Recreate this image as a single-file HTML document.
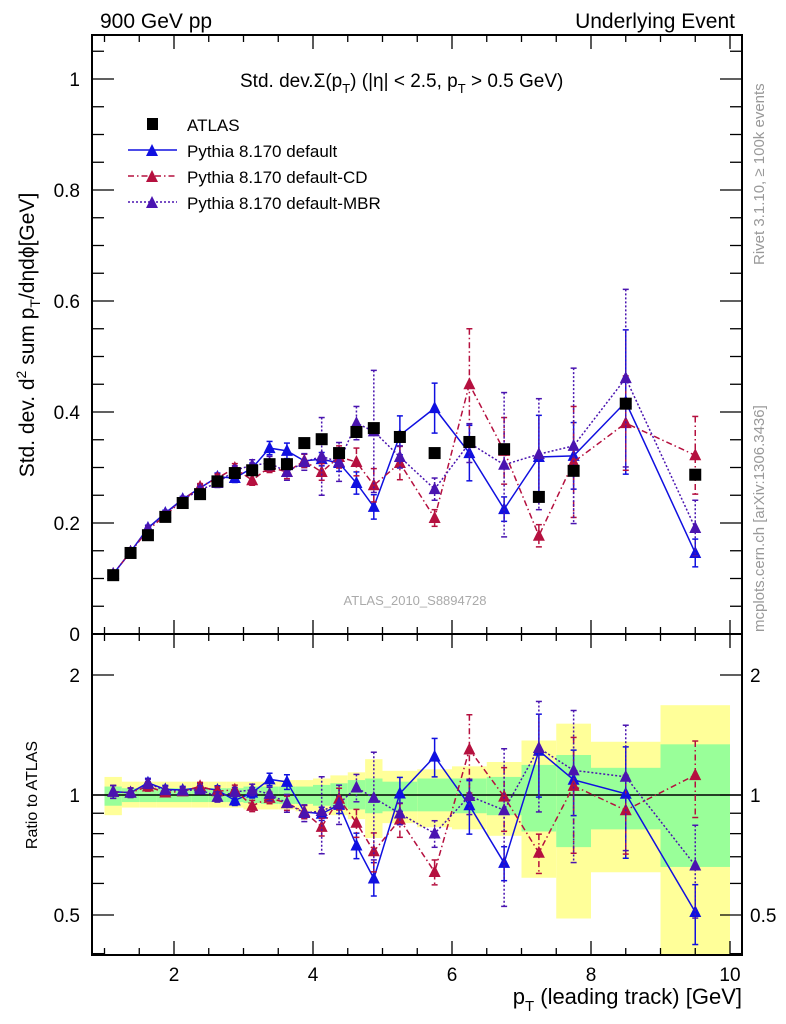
<!DOCTYPE html>
<html><head><meta charset="utf-8"><style>
html,body{margin:0;padding:0;background:#fff;}
svg{display:block;font-family:"Liberation Sans",sans-serif;}
</style></head><body>
<svg id="chart" width="786" height="1024" viewBox="0 0 786 1024" xmlns="http://www.w3.org/2000/svg">
<g id="bands"></g>
<g id="frames"></g>
<g id="series"></g>
<g id="labels">
<text x="100" y="28" font-size="21">900 GeV pp</text>
<text x="735" y="28" font-size="21" text-anchor="end">Underlying Event</text>
<text x="240" y="87" font-size="19">Std. dev.Σ(p<tspan font-size="13" dy="6">T</tspan><tspan dy="-6">) (|η| &lt; 2.5, p</tspan><tspan font-size="13" dy="6">T</tspan><tspan dy="-6"> &gt; 0.5 GeV)</tspan></text>
<text transform="translate(34,335) rotate(-90)" font-size="21" text-anchor="middle">Std. dev. d<tspan font-size="14" dy="-8">2</tspan><tspan dy="8"> sum p</tspan><tspan font-size="14" dy="6">T</tspan><tspan dy="-6">/dηdϕ[GeV]</tspan></text>
<text transform="translate(37,795) rotate(-90)" font-size="16" text-anchor="middle">Ratio to ATLAS</text>
<text x="742" y="1004" font-size="22" text-anchor="end">p<tspan font-size="15" dy="7">T</tspan><tspan dy="-7"> (leading track) [GeV]</tspan></text>
<text transform="translate(764,265) rotate(-90)" font-size="15" fill="#999">Rivet 3.1.10, ≥ 100k events</text>
<text transform="translate(764,632) rotate(-90)" font-size="15" fill="#999">mcplots.cern.ch [arXiv:1306.3436]</text>
<text x="415" y="605" font-size="13" fill="#aaa" text-anchor="middle">ATLAS_2010_S8894728</text>
</g>
<g id="legend"></g>
</svg>
<script>
const binCenters=[1.125,1.375,1.625,1.875,2.125,2.375,2.625,2.875,3.125,3.375,3.625,3.875,4.125,4.375,4.625,4.875,5.25,5.75,6.25,6.75,7.25,7.75,8.5,9.5];
const binEdges=[1,1.25,1.5,1.75,2,2.25,2.5,2.75,3,3.25,3.5,3.75,4,4.25,4.5,4.75,5,5.5,6,6.5,7,7.5,8,9,10];
const atlasValues=[0.106,0.146,0.178,0.211,0.236,0.252,0.275,0.29,0.295,0.306,0.306,0.344,0.351,0.326,0.364,0.371,0.355,0.326,0.346,0.333,0.247,0.294,0.415,0.287];
const defaultValues=[0.108,0.148,0.191,0.218,0.243,0.263,0.283,0.281,0.299,0.335,0.33,0.312,0.315,0.308,0.272,0.229,0.358,0.407,0.326,0.225,0.319,0.321,0.418,0.146];
const defaultErrors=[0.004,0.004,0.005,0.005,0.005,0.006,0.007,0.008,0.009,0.012,0.014,0.012,0.012,0.015,0.02,0.022,0.035,0.045,0.05,0.022,0.075,0.06,0.13,0.025];
const cdValues=[0.108,0.148,0.187,0.214,0.241,0.265,0.281,0.299,0.277,0.301,0.292,0.312,0.292,0.319,0.31,0.268,0.308,0.209,0.45,0.33,0.177,0.31,0.38,0.322];
const cdErrors=[0.004,0.004,0.005,0.005,0.005,0.006,0.007,0.008,0.009,0.01,0.012,0.012,0.015,0.02,0.025,0.03,0.03,0.015,0.1,0.06,0.02,0.1,0.085,0.07];
const mbrValues=[0.108,0.148,0.19,0.217,0.242,0.26,0.272,0.295,0.304,0.308,0.292,0.31,0.32,0.31,0.38,0.365,0.319,0.261,0.344,0.305,0.324,0.339,0.461,0.191];
const mbrErrors=[0.004,0.004,0.005,0.005,0.005,0.006,0.008,0.008,0.01,0.012,0.015,0.015,0.07,0.035,0.03,0.11,0.02,0.02,0.035,0.13,0.1,0.14,0.16,0.05];
const yellowHi=[1.11,1.08,1.08,1.08,1.08,1.08,1.08,1.08,1.08,1.08,1.09,1.09,1.10,1.12,1.14,1.23,1.15,1.16,1.18,1.21,1.37,1.51,1.36,1.68];
const yellowLo=[0.89,0.93,0.93,0.93,0.93,0.93,0.93,0.93,0.92,0.92,0.92,0.91,0.90,0.89,0.87,0.78,0.85,0.83,0.82,0.79,0.62,0.49,0.64,0.3];
const greenHi=[1.05,1.04,1.04,1.04,1.04,1.04,1.04,1.04,1.05,1.05,1.05,1.05,1.06,1.07,1.09,1.10,1.08,1.10,1.10,1.11,1.19,1.26,1.17,1.34];
const greenLo=[0.94,0.96,0.96,0.96,0.96,0.96,0.96,0.96,0.955,0.95,0.95,0.95,0.94,0.93,0.92,0.90,0.91,0.91,0.90,0.89,0.81,0.74,0.82,0.66];
const mainTicks=[0,0.2,0.4,0.6,0.8,1];
const mainTickLabels=["0","0.2","0.4","0.6","0.8","1"];
const xTicks=[2,4,6,8,10];
const xTickLabels=["2","4","6","8","10"];
const ratioTicks=[0.5,1,2];
const ratioTickLabels=["0.5","1","2"];

const NS="http://www.w3.org/2000/svg";
const L=92,R=742,T=35,M=634,B=955;
const xs=v=>174+(v-2)*69.5;
const ys=v=>634-v*555;
const rs=v=>795-120*Math.log2(v);
function mk(tag,attrs,parent){const e=document.createElementNS(NS,tag);for(const k in attrs)e.setAttribute(k,attrs[k]);parent.appendChild(e);return e;}
const bandsG=document.getElementById('bands'),frG=document.getElementById('frames'),seG=document.getElementById('series'),lgG=document.getElementById('legend');

const clipR=v=>Math.min(Math.max(rs(v),M),B);
for(let i=0;i<binCenters.length;i++){
  const x0=xs(binEdges[i]),x1=xs(binEdges[i+1]);
  const y=mk('rect',{x:x0,y:clipR(yellowHi[i]),width:x1-x0,height:clipR(yellowLo[i])-clipR(yellowHi[i]),fill:'#ffff99'},bandsG);
  
  
  const g=mk('rect',{x:x0,y:clipR(greenHi[i]),width:x1-x0,height:clipR(greenLo[i])-clipR(greenHi[i]),fill:'#99ff99'},bandsG);
  
  
}
const f1=mk('rect',{x:L,y:T,width:R-L,height:M-T,fill:'none',stroke:'#000','stroke-width':2},frG);


const f2=mk('rect',{x:L,y:M,width:R-L,height:B-M,fill:'none',stroke:'#000','stroke-width':2},frG);


const one=mk('line',{x1:L,x2:R,y1:rs(1),y2:rs(1),stroke:'#000','stroke-width':1.5},frG);


function tick(x1,y1,x2,y2){mk('line',{x1,y1,x2,y2,stroke:'#000','stroke-width':1.3},frG);}
for(let v=1;v<=10.01;v+=0.5){
  const x=xs(v),major=Math.abs(v-Math.round(v/2)*2)<0.01,len=major?14:7;
  tick(x,T,x,T+len);tick(x,M,x,M-len);tick(x,M,x,M+len);tick(x,B,x,B-len);
}
xTicks.forEach((v,i)=>{const t=mk('text',{x:xs(v),y:981,'font-size':19,'text-anchor':'middle'},frG);t.textContent=xTickLabels[i];

});
for(let v=0;v<=1.0801;v+=0.05){const y=ys(v),major=Math.abs(v*5-Math.round(v*5))<0.01,len=major?22:12;if(y<T)continue;tick(L,y,L+len,y);tick(R,y,R-len,y);}
mainTicks.forEach((v,i)=>{const t=mk('text',{x:L-12,y:ys(v)+7,'font-size':19,'text-anchor':'end'},frG);t.textContent=mainTickLabels[i];

});
[0.4,0.5,0.6,0.7,0.8,0.9,1,2].forEach(v=>{const y=rs(v);if(y>B||y<M)return;const major=(v===0.5||v===1||v===2),len=major?22:12;tick(L,y,L+len,y);tick(R,y,R-len,y);});
ratioTicks.forEach((v,i)=>{
const t=mk('text',{x:L-12,y:rs(v)+7,'font-size':19,'text-anchor':'end'},frG);t.textContent=ratioTickLabels[i];


const t2=mk('text',{x:R+8,y:rs(v)+7,'font-size':19},frG);t2.textContent=ratioTickLabels[i];

});

function tri(x,y,c,parent){return mk('path',{d:`M${x-6},${y+5}L${x+6},${y+5}L${x},${y-7}Z`,fill:c},parent);}
const models=[
 {name:'pythia-default',vals:defaultValues,errs:defaultErrors,c:'#1010e0',dash:''},
 {name:'pythia-default-cd',vals:cdValues,errs:cdErrors,c:'#b5103f',dash:'6,3,1.5,3'},
 {name:'pythia-default-mbr',vals:mbrValues,errs:mbrErrors,c:'#4a14b0',dash:'2,2'}];
const main=mk('g',{},seG);


const rat=mk('g',{'clip-path':'url(#rclip)'},seG);


const defs=mk('defs',{},seG);const cp=mk('clipPath',{id:'rclip'},defs);mk('rect',{x:L,y:M,width:R-L,height:B-M},cp);
models.forEach(m=>{
  const g=mk('g',{},main);
  
  
  const pts=m.vals.map((v,i)=>xs(binCenters[i])+','+ys(v)).join(' ');
  mk('polyline',{points:pts,fill:'none',stroke:m.c,'stroke-width':1.5,'stroke-dasharray':m.dash},g);
  const gr=mk('g',{},rat);
  
  
  const rp=m.vals.map((v,i)=>xs(binCenters[i])+','+rs(v/atlasValues[i])).join(' ');
  mk('polyline',{points:rp,fill:'none',stroke:m.c,'stroke-width':1.5,'stroke-dasharray':m.dash},gr);
  m.vals.forEach((v,i)=>{
    const x=xs(binCenters[i]),e=m.errs[i];
    mk('line',{x1:x,x2:x,y1:ys(v+e),y2:ys(v-e),stroke:m.c,'stroke-width':1.5,'stroke-dasharray':m.dash},g);
    mk('line',{x1:x-3,x2:x+3,y1:ys(v+e),y2:ys(v+e),stroke:m.c,'stroke-width':1.5},g);
    mk('line',{x1:x-3,x2:x+3,y1:ys(v-e),y2:ys(v-e),stroke:m.c,'stroke-width':1.5},g);
    const p=tri(x,ys(v),m.c,g);
    
    
    const r=v/atlasValues[i],re=e/atlasValues[i];
    const lo=Math.max(r-re,0.05);
    mk('line',{x1:x,x2:x,y1:rs(r+re),y2:rs(lo),stroke:m.c,'stroke-width':1.5,'stroke-dasharray':m.dash},gr);
    mk('line',{x1:x-3,x2:x+3,y1:rs(r+re),y2:rs(r+re),stroke:m.c,'stroke-width':1.5},gr);
    mk('line',{x1:x-3,x2:x+3,y1:rs(lo),y2:rs(lo),stroke:m.c,'stroke-width':1.5},gr);
    const q=tri(x,rs(r),m.c,gr);
    
    
  });
});
const ag=mk('g',{},main);


atlasValues.forEach((v,i)=>{
  const s=mk('rect',{x:xs(binCenters[i])-6,y:ys(v)-6,width:12,height:12,fill:'#000'},ag);
  
  
});
const leg=[['ATLAS',null,'',''],['Pythia 8.170 default','#1010e0','','legend-default'],['Pythia 8.170 default-CD','#b5103f','6,3,1.5,3','legend-cd'],['Pythia 8.170 default-MBR','#4a14b0','2,2','legend-mbr']];
leg.forEach((l,i)=>{
  const y=124+i*26;
  const g=mk('g',{},lgG);
  
  
  if(!l[1]){mk('rect',{x:147,y:y-6,width:11,height:12,fill:'#000'},g);}
  else{mk('line',{x1:128,x2:177,y1:y,y2:y,stroke:l[1],'stroke-width':1.5,'stroke-dasharray':l[2]},g);tri(152,y+1,l[1],g);}
  const t=mk('text',{x:187,y:y+7,'font-size':17},g);t.textContent=l[0];
});
</script>
</body></html>
